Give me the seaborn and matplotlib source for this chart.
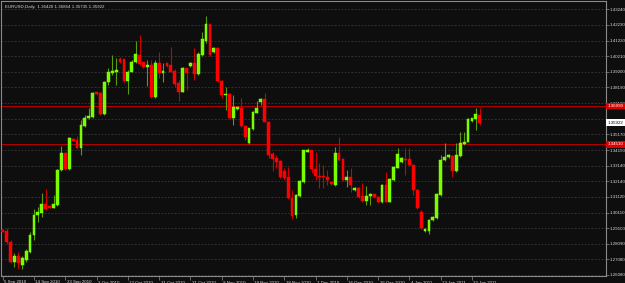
import numpy as np
import pandas as pd
import matplotlib
matplotlib.use("Agg")
import matplotlib.pyplot as plt
import matplotlib.transforms as mtransforms
import seaborn as sns

# ---------------- data ----------------
opens = [1.2895, 1.2892, 1.2821, 1.2693, 1.2730, 1.2672, 1.2704, 1.2758, 1.2866, 1.2995,
         1.3010, 1.3066, 1.3053, 1.3042, 1.3060, 1.3286, 1.3394, 1.3290, 1.3488, 1.3480,
         1.3426, 1.3570, 1.3620, 1.3630, 1.3788, 1.3782, 1.3647, 1.3852, 1.3911, 1.3921,
         1.4001, 1.4001, 1.3862, 1.3921, 1.3981, 1.4029, 1.3981, 1.3949, 1.3964, 1.3759,
         1.3979, 1.3911, 1.3975, 1.3964, 1.3927, 1.3850, 1.3792, 1.3942, 1.3960, 1.3975,
         1.3906, 1.4029, 1.4121, 1.4227, 1.4050, 1.4076, 1.3863, 1.3768, 1.3777, 1.3620,
         1.3678, 1.3684, 1.3570, 1.3459, 1.3549, 1.3656, 1.3727, 1.3744, 1.3598, 1.3389,
         1.3361, 1.3346, 1.3281, 1.3243, 1.3103, 1.2995, 1.3118, 1.3210, 1.3404, 1.3415,
         1.3290, 1.3247, 1.3247, 1.3243, 1.3206, 1.3189, 1.3398, 1.3357, 1.3221, 1.3239,
         1.3157, 1.3168, 1.3118, 1.3086, 1.3118, 1.3129, 1.3113, 1.3077, 1.3189, 1.3081,
         1.3221, 1.3301, 1.3339, 1.3357, 1.3357, 1.3318, 1.3157, 1.3016, 1.2894, 1.2892,
         1.2963, 1.2978, 1.3125, 1.3350, 1.3370, 1.3378, 1.3279, 1.3378, 1.3452, 1.3469,
         1.3604, 1.3615, 1.3642]
highs = [1.2905, 1.2911, 1.2834, 1.2750, 1.2756, 1.2730, 1.2776, 1.2887, 1.3034, 1.3049,
         1.3138, 1.3161, 1.3060, 1.3125, 1.3292, 1.3441, 1.3402, 1.3499, 1.3493, 1.3506,
         1.3609, 1.3641, 1.3684, 1.3787, 1.3793, 1.3787, 1.3861, 1.3942, 1.4029, 1.4009,
         1.4016, 1.4006, 1.3929, 1.3996, 1.4121, 1.4158, 1.3987, 1.3996, 1.3996, 1.3996,
         1.4050, 1.3975, 1.3980, 1.4082, 1.3941, 1.3867, 1.3951, 1.3948, 1.3987, 1.4072,
         1.4050, 1.4179, 1.4281, 1.4232, 1.4080, 1.4080, 1.3867, 1.3824, 1.3783, 1.3770,
         1.3696, 1.3749, 1.3577, 1.3560, 1.3664, 1.3733, 1.3749, 1.3781, 1.3602, 1.3404,
         1.3383, 1.3350, 1.3297, 1.3307, 1.3157, 1.3131, 1.3221, 1.3418, 1.3426, 1.3418,
         1.3404, 1.3329, 1.3318, 1.3286, 1.3211, 1.3437, 1.3501, 1.3363, 1.3286, 1.3297,
         1.3173, 1.3173, 1.3200, 1.3184, 1.3134, 1.3131, 1.3118, 1.3195, 1.3271, 1.3231,
         1.3312, 1.3426, 1.3367, 1.3426, 1.3430, 1.3324, 1.3163, 1.3027, 1.2908, 1.2969,
         1.2989, 1.3134, 1.3383, 1.3458, 1.3389, 1.3383, 1.3458, 1.3533, 1.3529, 1.3622,
         1.3625, 1.3684, 1.3686]
lows = [1.2885, 1.2808, 1.2685, 1.2661, 1.2646, 1.2644, 1.2691, 1.2750, 1.2834, 1.2952,
        1.2984, 1.3027, 1.3037, 1.3037, 1.3053, 1.3279, 1.3286, 1.3286, 1.3470, 1.3422,
        1.3383, 1.3564, 1.3615, 1.3625, 1.3770, 1.3641, 1.3641, 1.3835, 1.3899, 1.3835,
        1.3980, 1.3857, 1.3777, 1.3916, 1.3977, 1.3964, 1.3948, 1.3829, 1.3754, 1.3754,
        1.3878, 1.3856, 1.3951, 1.3916, 1.3824, 1.3733, 1.3787, 1.3803, 1.3954, 1.3867,
        1.3899, 1.4022, 1.4104, 1.4022, 1.4045, 1.3857, 1.3749, 1.3673, 1.3615, 1.3577,
        1.3673, 1.3564, 1.3480, 1.3454, 1.3544, 1.3651, 1.3706, 1.3593, 1.3361, 1.3281,
        1.3297, 1.3237, 1.3221, 1.3099, 1.2967, 1.2974, 1.3111, 1.3205, 1.3399, 1.3265,
        1.3221, 1.3168, 1.3168, 1.3189, 1.3189, 1.3182, 1.3344, 1.3215, 1.3178, 1.3146,
        1.3150, 1.3108, 1.3080, 1.3060, 1.3060, 1.3108, 1.3073, 1.3073, 1.3076, 1.3076,
        1.3215, 1.3296, 1.3334, 1.3254, 1.3312, 1.3125, 1.3034, 1.2905, 1.2888, 1.2870,
        1.2956, 1.2972, 1.3118, 1.3344, 1.3363, 1.3243, 1.3273, 1.3373, 1.3447, 1.3464,
        1.3599, 1.3544, 1.3574]
closes = [1.2888, 1.2821, 1.2693, 1.2730, 1.2687, 1.2715, 1.2763, 1.2866, 1.2995, 1.3016,
          1.3066, 1.3034, 1.3042, 1.3064, 1.3286, 1.3394, 1.3290, 1.3491, 1.3475, 1.3426,
          1.3577, 1.3624, 1.3635, 1.3782, 1.3775, 1.3647, 1.3856, 1.3917, 1.3926, 1.3932,
          1.3985, 1.3862, 1.3921, 1.3985, 1.4035, 1.3970, 1.3953, 1.3964, 1.3759, 1.3979,
          1.3911, 1.3927, 1.3957, 1.3921, 1.3841, 1.3792, 1.3947, 1.3914, 1.3979, 1.3906,
          1.4033, 1.4130, 1.4227, 1.4029, 1.4072, 1.3863, 1.3770, 1.3777, 1.3620, 1.3691,
          1.3691, 1.3570, 1.3497, 1.3555, 1.3659, 1.3688, 1.3742, 1.3598, 1.3383, 1.3355,
          1.3339, 1.3243, 1.3232, 1.3103, 1.2989, 1.3125, 1.3217, 1.3415, 1.3415, 1.3290,
          1.3247, 1.3239, 1.3239, 1.3221, 1.3195, 1.3398, 1.3350, 1.3221, 1.3243, 1.3189,
          1.3168, 1.3113, 1.3086, 1.3118, 1.3129, 1.3113, 1.3077, 1.3189, 1.3081, 1.3226,
          1.3307, 1.3391, 1.3361, 1.3350, 1.3318, 1.3157, 1.3038, 1.2909, 1.2903, 1.2963,
          1.2984, 1.3129, 1.3350, 1.3372, 1.3383, 1.3279, 1.3383, 1.3458, 1.3469, 1.3615,
          1.3620, 1.3646, 1.3592]

date_labels = ["5 Sep 2010", "14 Sep 2010", "23 Sep 2010", "3 Oct 2010", "12 Oct 2010",
               "21 Oct 2010", "31 Oct 2010", "9 Nov 2010", "18 Nov 2010", "28 Nov 2010",
               "7 Dec 2010", "16 Dec 2010", "26 Dec 2010", "4 Jan 2011", "13 Jan 2011",
               "23 Jan 2011"]
bars_per_label = 8

price_ticks = [1.43240, 1.42230, 1.41220, 1.40210, 1.39200, 1.38190, 1.37180, 1.36170,
               1.35170, 1.34150, 1.33140, 1.32140, 1.31120, 1.30110, 1.29100, 1.28090,
               1.27080, 1.26080]
hidden_ticks = [1.36170]

hline_prices = [1.36990, 1.34510]
header_text = "EURUSD,Daily  1.36420 1.36864 1.35735 1.35922"
last_price = 1.35922

# ---------------- style ----------------
BG = "#0e0e0e"
FG = "#d8d8d8"
UP_BODY, UP_WICK = "#7cfc00", "#5c9c0c"
DN_BODY, DN_WICK = "#ff0000", "#d00000"
LINE_RED = "#b00000"
FS = 3.2

sns.set_theme(style="dark", rc={
    "axes.facecolor": BG, "figure.facecolor": BG, "axes.edgecolor": "#8a8a8a",
    "text.color": FG, "xtick.color": FG, "ytick.color": FG,
})
plt.rcParams["font.family"] = ["Liberation Sans", "DejaVu Sans"]

W, H = 625, 283
fig = plt.figure(figsize=(W / 100, H / 100), dpi=100)
left, right, top, bottom = 1.5, 605.7, 1.0, 275.5
ax = fig.add_axes([left / W, 1 - bottom / H, (right - left) / W, (bottom - top) / H])

df = pd.DataFrame({"open": opens, "high": highs, "low": lows, "close": closes})
df["idx"] = np.arange(len(df))
df["up"] = df["close"] >= df["open"]

# grid
ax.set_yticks(price_ticks)
ax.yaxis.grid(True, color="#3a3a3a", linestyle=(0, (2, 2)), linewidth=0.6)
ax.xaxis.grid(False)
ax.set_axisbelow(True)

# horizontal lines
for p in hline_prices:
    ax.axhline(p, color=LINE_RED, linewidth=0.75, zorder=1)

# candles
for is_up, body_c, wick_c in [(True, UP_BODY, UP_WICK), (False, DN_BODY, DN_WICK)]:
    sub = df[df["up"] == is_up]
    ax.vlines(sub["idx"], sub["low"], sub["high"], color=wick_c, linewidth=0.8, zorder=2)
    ax.bar(sub["idx"], (sub["close"] - sub["open"]).abs(),
           bottom=np.minimum(sub["open"], sub["close"]), width=0.72,
           color=body_c, edgecolor=body_c, linewidth=0.35, zorder=3)

ax.set_xlim(-0.31, 154.2)
ax.set_ylim(1.2604, 1.4378)

# axes labels
ax.yaxis.tick_right()
ax.set_yticklabels(["" if v in hidden_ticks else f"{v:.5f}" for v in price_ticks])
ax.tick_params(axis="y", length=2, width=0.5, color="#8a8a8a", pad=0.8, labelsize=FS,
               labelcolor=FG, right=True, left=False)
xpos = [i * bars_per_label for i in range(len(date_labels))]
ax.set_xticks(xpos)
ax.set_xticklabels(date_labels)
ax.tick_params(axis="x", length=3, width=0.5, color="#8a8a8a", pad=0.6, labelsize=FS,
               labelcolor=FG, bottom=True)
offset = mtransforms.ScaledTranslation(1.5 / 100, 0, fig.dpi_scale_trans)
for lbl in ax.get_xticklabels():
    lbl.set_horizontalalignment("left")
    lbl.set_transform(lbl.get_transform() + offset)

for s in ax.spines.values():
    s.set_color("#8a8a8a")
    s.set_linewidth(0.8)

# header
ax.text(0.006, 0.985, header_text, transform=ax.transAxes, ha="left", va="top",
        fontsize=FS, color=FG)

# price boxes on the axis
trans = mtransforms.blended_transform_factory(ax.transAxes, ax.transData)
for p in hline_prices:
    ax.text(1.003, p, f"{p:.5f}", transform=trans, ha="left", va="center", fontsize=FS,
            color="white", clip_on=False,
            bbox=dict(boxstyle="square,pad=0.3", facecolor="#e00000", edgecolor="none"))
ax.text(1.003, last_price, f"{last_price:.5f}", transform=trans, ha="left", va="center",
        fontsize=FS, color="black", clip_on=False,
        bbox=dict(boxstyle="square,pad=0.3", facecolor="white", edgecolor="none"))

fig.savefig("out.png", dpi=100, facecolor=BG)
